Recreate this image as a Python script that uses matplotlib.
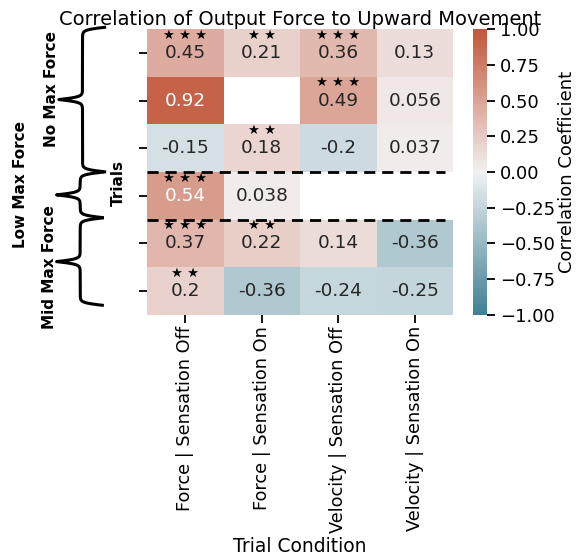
import numpy as np
import pandas as pd
import matplotlib
matplotlib.use("Agg")
import matplotlib.pyplot as plt
import matplotlib.transforms as mtransforms
import seaborn as sns

# ---------------- data ----------------
conditions = ["Force | Sensation Off", "Force | Sensation On",
              "Velocity | Sensation Off", "Velocity | Sensation On"]
force_sens_off = [0.45, 0.92, -0.15, 0.54, 0.37, 0.2]
force_sens_on = [0.21, np.nan, 0.18, 0.038, 0.22, -0.36]
vel_sens_off = [0.36, 0.49, -0.2, np.nan, 0.14, -0.24]
vel_sens_on = [0.13, 0.056, 0.037, np.nan, -0.36, -0.25]
# number of significance stars per cell (rows x conditions)
stars_force_off = [3, 0, 0, 3, 3, 2]
stars_force_on = [2, 0, 2, 0, 2, 0]
stars_vel_off = [3, 3, 0, 0, 0, 0]
stars_vel_on = [0, 0, 0, 0, 0, 0]
groups = ["No Max Force", "Low Max Force", "Mid Max Force"]
group_rows = [3, 1, 2]
cbar_ticks = [-1.0, -0.75, -0.5, -0.25, 0.0, 0.25, 0.5, 0.75, 1.0]

df = pd.DataFrame({c: v for c, v in zip(conditions,
                   [force_sens_off, force_sens_on, vel_sens_off, vel_sens_on])})
stars = np.array([stars_force_off, stars_force_on, stars_vel_off, stars_vel_on]).T

# ---------------- figure ----------------
fig = plt.figure(figsize=(5.77, 5.56), dpi=100)
ax = fig.add_axes([0.2548, 0.4335, 0.5303, 0.5143])
cax = fig.add_axes([0.8198, 0.4335, 0.0243, 0.5143])

cmap = sns.diverging_palette(220, 20, as_cmap=True)
sns.heatmap(df, ax=ax, cbar_ax=cax, cmap=cmap, vmin=-1, vmax=1, center=0,
            annot=True, fmt=".2g", annot_kws={"fontsize": 13.3},
            cbar_kws={"ticks": cbar_ticks})

# significance stars
nrows, ncols = df.shape
for i in range(nrows):
    for j in range(ncols):
        n = int(stars[i, j])
        if n > 0:
            ax.text(j + 0.5, i + 0.5 - 0.37, " ".join(["\u2605"] * n),
                    ha="center", va="center", fontsize=9.5, color="black")

# group separators
for b in np.cumsum(group_rows)[:-1]:
    ax.axhline(b, color="black", ls=(0, (4, 2.5)), lw=2, xmax=0.975)

ax.set_yticks(np.arange(nrows) + 0.5)
ax.set_yticklabels([""] * nrows)
ax.set_xticks(np.arange(ncols) + 0.5)
ax.set_xticklabels(conditions, rotation=90, fontsize=12.8)
ax.tick_params(axis="both", length=6, width=1.3, color="black")
ax.tick_params(axis="x", pad=2)
ax.set_xlabel("Trial Condition", fontsize=13.5, va="center")
ax.xaxis.set_label_coords(0.5, -0.81)
ax.set_ylabel("Trials", fontsize=11, fontweight="bold", ha="center", va="center")
ax.yaxis.set_label_coords(-0.095, 0.46)
ax.set_title("Correlation of Output Force to Upward Movement", fontsize=14, pad=2)

cax.tick_params(length=6, width=1.3, labelsize=13)
cax.set_ylabel("Correlation Coefficient", fontsize=13, labelpad=2)

# curly braces for groups
trans = mtransforms.blended_transform_factory(fig.transFigure, ax.transData)


def brace(y0, y1, xline, depth, beta=35.0):
    n = 401
    y = np.linspace(y0, y1, n)
    half = y[: n // 2 + 1]
    xh = (1.0 / (1.0 + np.exp(-beta * (half - half[0])))
          + 1.0 / (1.0 + np.exp(-beta * (half - half[-1]))))
    xs = np.concatenate((xh, xh[-2::-1]))
    ax.plot(xline - depth * (xs - 1.0), y, transform=trans, clip_on=False,
            color="black", lw=2.2, solid_capstyle="butt")


bounds = np.concatenate(([0], np.cumsum(group_rows)))
brace_spans = [(bounds[0] - 0.04, bounds[1]), (bounds[1], bounds[2] - 0.04),
               (bounds[2] - 0.04, bounds[3] - 0.2)]
brace_x = [0.143, 0.139, 0.139]
for (y0, y1), xl in zip(brace_spans, brace_x):
    brace(y0, y1, xl, 0.082)

label_pos = [(0.090, 1.26), (0.036, 3.27), (0.085, 5.0)]
for g, (lx, ly) in zip(groups, label_pos):
    ax.text(lx, ly, g, transform=trans, rotation=90, ha="center", va="center",
            fontsize=11, fontweight="bold")

fig.savefig("out.png", dpi=100)
